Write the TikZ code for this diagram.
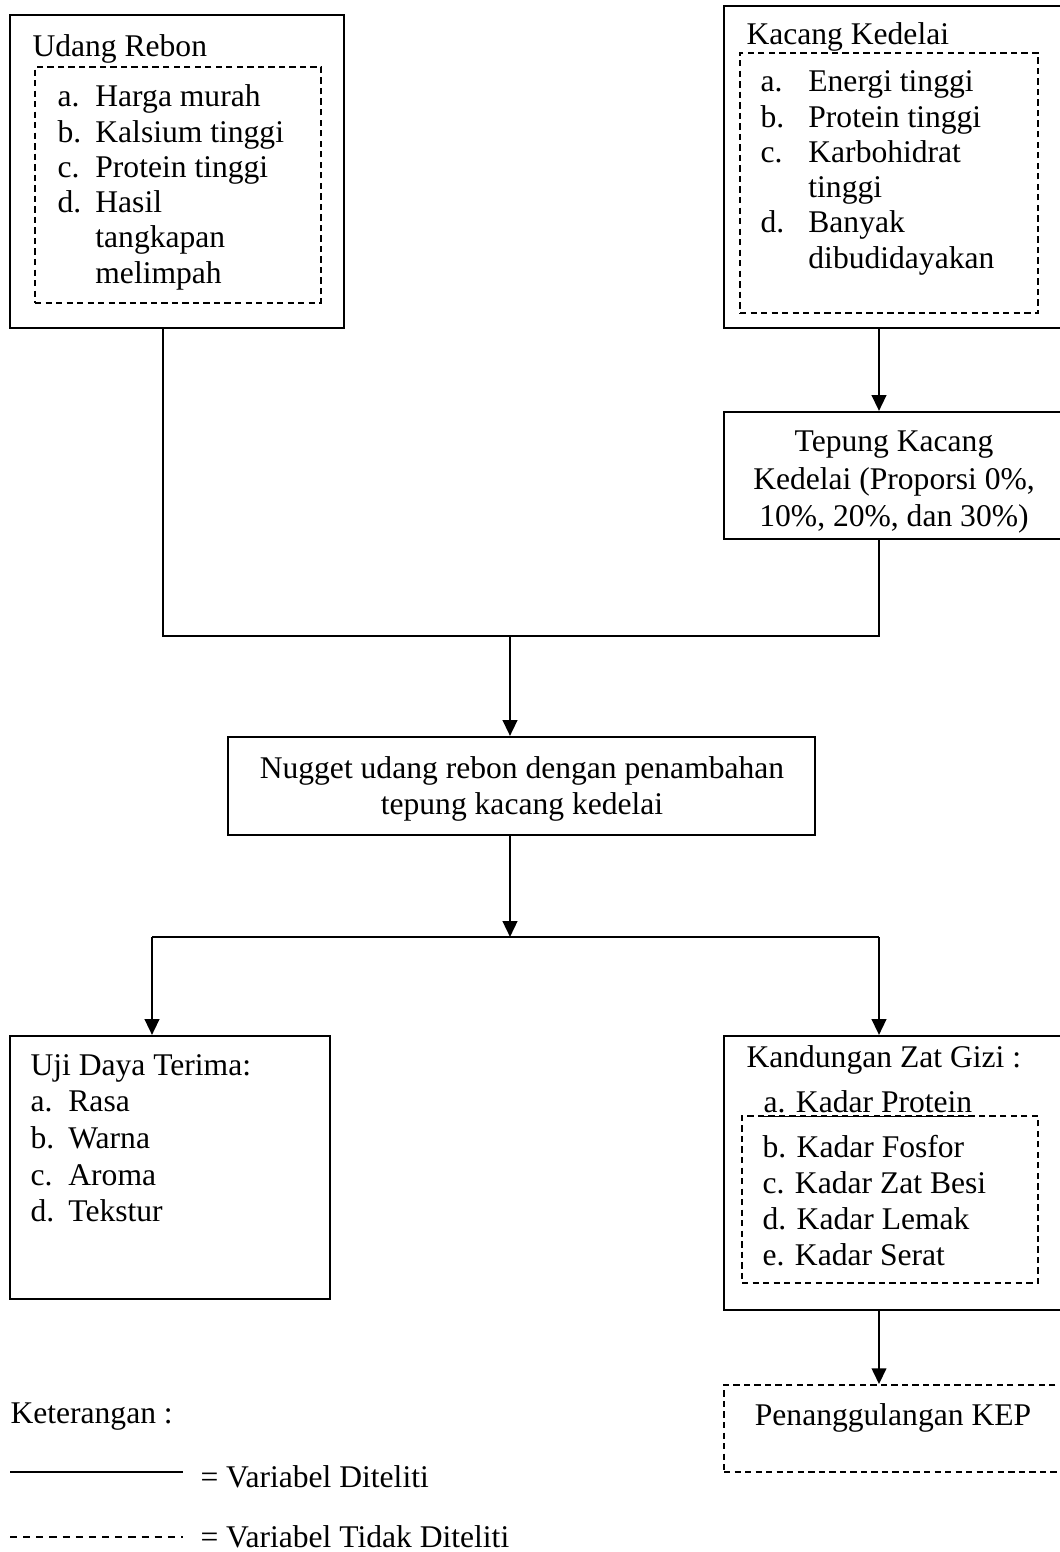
\documentclass[tikz,border=0pt]{standalone}
\usepackage{fontspec}
\setmainfont{Liberation Serif}
\usepackage{tikz}
\usetikzlibrary{calc}
\usetikzlibrary{positioning}
\usetikzlibrary{arrows.meta}
\usetikzlibrary{fit}

\begin{document}
\begin{tikzpicture}[x=0.38pt,y=-0.38pt,font=\fontsize{12}{13.8}\selectfont]
\tikzstyle{box}=[rectangle,draw,line width=0.8pt,inner sep=0pt]
\tikzstyle{dbox}=[rectangle,draw,line width=0.7pt,dash pattern=on 2.4pt off 1.6pt,inner sep=0pt]
\tikzstyle{txt}=[inner sep=0pt,anchor=base west]
\tikzstyle{ctxt}=[inner sep=0pt,anchor=base]
\tikzstyle{conn}=[line width=0.9pt]
\tikzstyle{arr}=[conn,-{Triangle[width=5.5pt,length=6pt]}]
\useasboundingbox (0,0) rectangle (1059,1552);

\node[box,fit={(10,15) (344,328)}] (udang) {};
\node[dbox,fit={(35,67) (321,303)}] (udangin) {};
\node[txt] at (32,57) (udangt) {Udang Rebon};
\node[txt] at (57,107) (udangl) {\renewcommand{\arraystretch}{0.97}%
  \begin{tabular}[t]{@{}p{14.4pt}@{}l@{}}
  a.&Harga murah\\ b.&Kalsium tinggi\\ c.&Protein tinggi\\
  d.&Hasil\\ &tangkapan\\ &melimpah
  \end{tabular}};

\node[box,fit={(724,6) (1062,328)}] (kacang) {};
\node[dbox,fit={(740,53) (1038,313)}] (kacangin) {};
\node[txt] at (746,45) (kacangt) {Kacang Kedelai};
\node[txt] at (760,92) (kacangl) {\renewcommand{\arraystretch}{0.97}%
  \begin{tabular}[t]{@{}p{18.2pt}@{}l@{}}
  a.&Energi tinggi\\ b.&Protein tinggi\\ c.&Karbohidrat\\ &tinggi\\
  d.&Banyak\\ &dibudidayakan
  \end{tabular}};

\node[box,fit={(724,412) (1062,539)}] (tepung) {};
\node[ctxt] at (894,452) (tepungt) {\renewcommand{\arraystretch}{1.02}%
  \begin{tabular}[t]{@{}c@{}}
  Tepung Kacang\\ Kedelai (Proporsi 0\%,\\ 10\%, 20\%, dan 30\%)
  \end{tabular}};

\node[box,fit={(228,737) (815,835)}] (nugget) {};
\node[ctxt] at (522,778) (nuggett) {\begin{tabular}[t]{@{}c@{}}
  Nugget udang rebon dengan penambahan\\ tepung kacang kedelai
  \end{tabular}};

\node[box,fit={(10,1036) (330,1299)}] (uji) {};
\node[txt] at (30,1075) (ujil) {\renewcommand{\arraystretch}{1.01}%
  \begin{tabular}[t]{@{}p{14.4pt}@{}l@{}}
  \multicolumn{2}{@{}l@{}}{Uji Daya Terima:}\\
  a.&Rasa\\ b.&Warna\\ c.&Aroma\\ d.&Tekstur
  \end{tabular}};

\node[box,fit={(724,1036) (1062,1310)}] (gizi) {};
\node[dbox,fit={(742,1116) (1038,1283)}] (giziin) {};
\node[txt] at (746,1067) (gizit) {Kandungan Zat Gizi :};
\node[txt] at (763,1112) (gizia) {\underline{a. Kadar Protein}};
\node[txt] at (762,1157) (gizil) {\renewcommand{\arraystretch}{1.0}%
  \begin{tabular}[t]{@{}l@{}}
  b. Kadar Fosfor\\ c. Kadar Zat Besi\\ d. Kadar Lemak\\ e. Kadar Serat
  \end{tabular}};

\node[dbox,fit={(724,1385) (1062,1472)}] (kep) {};
\node[ctxt] at (893,1425) (kept) {Penanggulangan KEP};

\coordinate (j1) at (163,636);
\coordinate (j2) at (879,636);
\coordinate (j3) at (510,636);
\coordinate (j4) at (510,937);
\coordinate (j5) at (152,937);
\coordinate (j6) at (879,937);
\draw[conn] (udang.south -| j1) -- (j1) -- (j2) -- (tepung.south -| j2);
\draw[arr] (kacang.south -| j2) -- (tepung.north -| j2);
\draw[arr] (j3) -- (nugget.north -| j3);
\draw[arr] (nugget.south -| j4) -- (j4);
\draw[conn] (j5) -- (j6);
\draw[arr] (j5) -- (uji.north -| j5);
\draw[arr] (j6) -- (gizi.north -| j6);
\draw[arr] (gizi.south -| j6) -- (kep.north -| j6);

\node[txt] at (10,1423) (ket) {Keterangan :};
\coordinate (sola) at (10,1472);
\coordinate (solb) at (183,1472);
\draw[conn] (sola) -- (solb);
\node[txt] at (200,1487) (solt) {= Variabel Diteliti};
\coordinate (dasa) at (10,1537);
\coordinate (dasb) at (183,1537);
\draw[conn,dash pattern=on 2.7pt off 2.3pt] (dasa) -- (dasb);
\node[txt] at (200,1547) (dast) {= Variabel Tidak Diteliti};
\end{tikzpicture}
\end{document}
